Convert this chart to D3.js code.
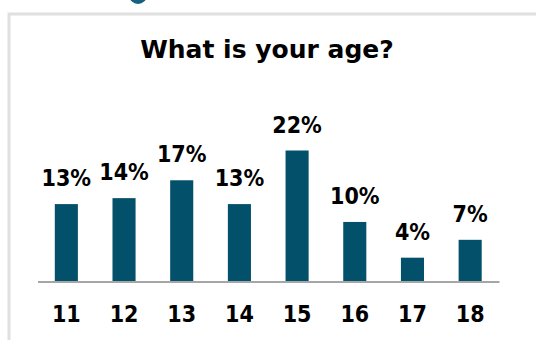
<!DOCTYPE html>
<html>
<head>
<meta charset="utf-8">
<script src="https://cdn.jsdelivr.net/npm/d3@7"></script>
<style>
  html, body { margin: 0; padding: 0; background: #ffffff; }
  svg { display: block; }
</style>
</head>
<body>
<svg id="chart" width="536" height="340"></svg>
<script>
// Age distribution of respondents
const title = "What is your age?";
const ages = ["11", "12", "13", "14", "15", "16", "17", "18"];
const shares = [13, 14, 17, 13, 22, 10, 4, 7];
const valueLabels = ["13%", "14%", "17%", "13%", "22%", "10%", "4%", "7%"];

const svg = d3.select("#chart");
const W = 536, H = 340;
const font = "'DejaVu Sans Condensed', 'DejaVu Sans', sans-serif";

// panel frame (top and left edges visible)
svg.append("circle")
  .attr("cx", 138).attr("cy", -5).attr("r", 9)
  .attr("fill", "#15617f");
svg.append("path")
  .attr("d", `M${W},14 H9 V${H}`)
  .attr("fill", "none")
  .attr("stroke", "#e0e0e0")
  .attr("stroke-width", 3);

// title
svg.append("text")
  .attr("x", 267).attr("y", 57.5)
  .attr("text-anchor", "middle")
  .attr("font-family", "'DejaVu Sans', sans-serif")
  .attr("font-weight", "bold")
  .attr("font-size", 25)
  .attr("fill", "#000")
  .text(title);

// scales
const x = d3.scaleBand()
  .domain(ages)
  .range([37.5, 499])
  .paddingInner(0.6)
  .paddingOuter(0.3);

const y = d3.scaleLinear()
  .domain([0, 22])
  .range([281.5, 150.5]);

// bars
svg.append("g").selectAll("rect")
  .data(ages)
  .join("rect")
  .attr("x", d => x(d))
  .attr("width", x.bandwidth())
  .attr("y", (d, i) => y(shares[i]))
  .attr("height", (d, i) => y(0) - y(shares[i]))
  .attr("fill", "#03506b");

// value labels
svg.append("g").selectAll("text")
  .data(ages)
  .join("text")
  .attr("x", d => x(d) + x.bandwidth() / 2)
  .attr("y", (d, i) => y(shares[i]) - 18)
  .attr("text-anchor", "middle")
  .attr("font-family", font)
  .attr("font-weight", "bold")
  .attr("font-size", 23)
  .attr("fill", "#000")
  .text((d, i) => valueLabels[i]);

// category axis
const axis = svg.append("g")
  .attr("transform", `translate(0,${y(0)})`)
  .call(d3.axisBottom(x).tickSize(0).tickPadding(24));
axis.select(".domain")
  .attr("stroke", "#a6a6a6")
  .attr("stroke-width", 2);
axis.selectAll("text")
  .attr("font-family", font)
  .attr("font-weight", "bold")
  .attr("font-size", 23)
  .attr("fill", "#000");
</script>
</body>
</html>
